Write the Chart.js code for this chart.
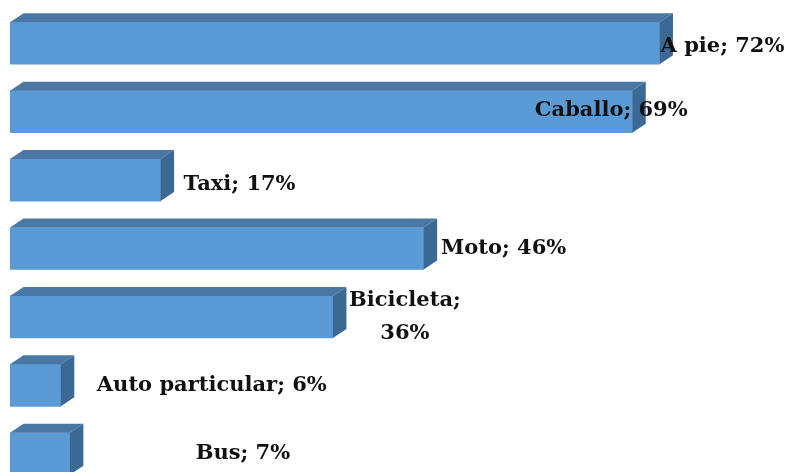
<!DOCTYPE html>
<html>
<head>
<meta charset="utf-8">
<script src="https://cdn.jsdelivr.net/npm/chart.js@4/dist/chart.umd.min.js"></script>
<style>
html, body { margin: 0; padding: 0; background: #fff; overflow: hidden; }
#wrap { width: 791px; height: 488px; position: relative; }
</style>
</head>
<body>
<div id="wrap"><canvas id="myChart"></canvas></div>
<script>
// data
var categories = ["A pie", "Caballo", "Taxi", "Moto", "Bicicleta", "Auto particular", "Bus"];
var values = [72, 69, 17, 46, 36, 6, 7];
var wrapLabel = [false, false, false, false, true, false, false];

// label placement, px relative to end of the front face
var labelDx = [63, -21, 79, 80, 72, 151, 173];
var labelDy = [3, -1, 4, 0, 0, 0, 0];

var depthX = 13.5, depthY = 9;

var bars3d = {
    id: "bars3d",
    afterDatasetsDraw: function(chart) {
        var ctx = chart.ctx;
        var meta = chart.getDatasetMeta(0);
        var left = chart.chartArea.left;
        ctx.save();
        meta.data.forEach(function(bar, i) {
            var p = bar.getProps(["x", "y", "base", "height"], true);
            var b = Math.max(p.base, left);
            var top = p.y - p.height / 2, bottom = p.y + p.height / 2;
            // top face
            ctx.fillStyle = "#4A77A3";
            ctx.beginPath();
            ctx.moveTo(b, top);
            ctx.lineTo(b + depthX, top - depthY);
            ctx.lineTo(p.x + depthX, top - depthY);
            ctx.lineTo(p.x, top);
            ctx.closePath();
            ctx.fill();
            // side face
            ctx.fillStyle = "#3C6894";
            ctx.beginPath();
            ctx.moveTo(p.x, top);
            ctx.lineTo(p.x + depthX, top - depthY);
            ctx.lineTo(p.x + depthX, bottom - depthY);
            ctx.lineTo(p.x, bottom);
            ctx.closePath();
            ctx.fill();
        });
        // labels
        ctx.fillStyle = "#111";
        ctx.font = "bold 21px 'DejaVu Serif', serif";
        ctx.textAlign = "center";
        ctx.textBaseline = "middle";
        meta.data.forEach(function(bar, i) {
            var p = bar.getProps(["x", "y"], true);
            var cx = p.x + labelDx[i], cy = p.y + labelDy[i];
            if (wrapLabel[i]) {
                ctx.fillText(categories[i] + ";", cx, cy - 16);
                ctx.fillText(values[i] + "%", cx, cy + 17);
            } else {
                ctx.fillText(categories[i] + "; " + values[i] + "%", cx, cy);
            }
        });
        ctx.restore();
    }
};

var myChart = document.getElementById("myChart").getContext("2d");

var barChart = new Chart(myChart, {
    type: "bar",
    data: {
        labels: categories,
        datasets: [{
            data: values,
            backgroundColor: "#5B9BD5",
            borderWidth: 0,
            barThickness: 42
        }]
    },
    options: {
        indexAxis: "y",
        responsive: true,
        maintainAspectRatio: false,
        animation: false,
        layout: { padding: { left: 10, right: 0, top: 9, bottom: 0 } },
        plugins: {
            legend: { display: false },
            tooltip: { enabled: false }
        },
        scales: {
            x: { display: false, min: 0.4, max: 86.5 },
            y: { display: false }
        }
    },
    plugins: [bars3d]
});
</script>
</body>
</html>
